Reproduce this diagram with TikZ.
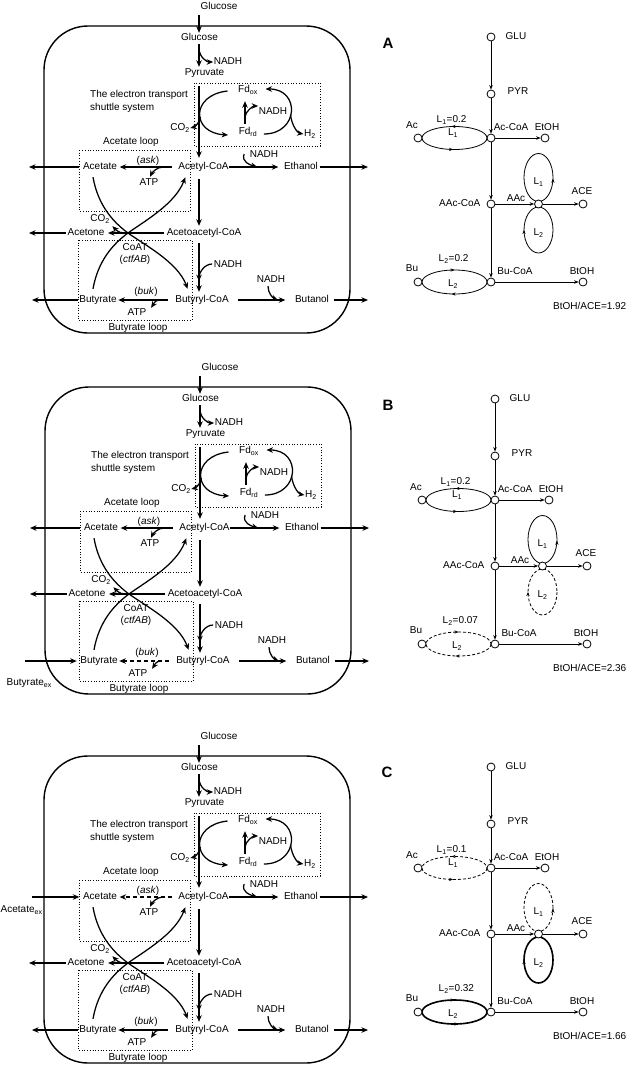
\documentclass[tikz,border=0pt]{standalone}
\usepackage{fontspec}
\setmainfont{Liberation Sans}
\usetikzlibrary{arrows.meta,calc,decorations.markings}

\tikzset{
  lab/.style={inner sep=0.5pt, text height=7pt, text depth=2pt, font=\fontsize{10}{12}\selectfont},
  arr/.style={line width=1.25pt, -{Stealth[length=6.5pt,width=5.5pt]}},
  dbox/.style={dotted, line width=0.7pt},
  cellwall/.style={line width=1.4pt, rounded corners=44pt},
  rarr/.style={line width=0.8pt, -{Stealth[length=4.5pt,width=3.5pt]}},
  rdot/.style={circle, draw, line width=0.8pt, minimum size=8pt, inner sep=0pt, fill=white},
  ell/.style={line width=0.8pt},
  thickell/.style={line width=1.6pt},
  dashell/.style={line width=0.8pt, dash pattern=on 3pt off 2pt},
  dsh/.style={dash pattern=on 4pt off 3pt},
  mkAc/.style={postaction={decorate,decoration={markings,
      mark=at position 0.26 with {\arrowreversed{Stealth[length=4pt,width=3.2pt]}},
      mark=at position 0.73 with {\arrowreversed{Stealth[length=4pt,width=3.2pt]}}}}},
  mkBu/.style={postaction={decorate,decoration={markings,
      mark=at position 0.27 with {\arrow{Stealth[length=4pt,width=3.2pt]}},
      mark=at position 0.75 with {\arrow{Stealth[length=4pt,width=3.2pt]}}}}},
  mkUp/.style={postaction={decorate,decoration={markings,
      mark=at position 0.01 with {\arrowreversed{Stealth[length=4pt,width=3.2pt]}}}}},
  mkDn/.style={postaction={decorate,decoration={markings,
      mark=at position 0.5 with {\arrow{Stealth[length=4pt,width=3.2pt]}}}}},
}

\newcommand\cellpanel[3]{%
 \draw[cellwall] (44,26) rectangle (350,333);
 \draw[dbox] (194,83) rectangle (320,146);
 \draw[dbox] (79,150) rectangle (190,211);
 \draw[dbox] (78,240) rectangle (192,320);
 \node[lab] (#1gout) at (219,7) {Glucose};
 \node[lab] (#1glu) at (199.5,38) {Glucose};
 \node[lab] (#1nadhA) at (228,62) {NADH};
 \node[lab] (#1pyr) at (204.5,73) {Pyruvate};
 \node[lab,anchor=west] (#1etsA) at (89.5,95) {The electron transport};
 \node[lab,anchor=west] (#1etsB) at (89.5,108) {shuttle system};
 \node[lab] (#1fdox) at (248,90) {Fd\textsubscript{ox}};
 \node[lab] (#1fdrd) at (248,132) {Fd\textsubscript{rd}};
 \node[lab] (#1nadhB) at (273,112) {NADH};
 \node[lab] (#1htwo) at (310,134) {H\textsubscript{2}};
 \node[lab] (#1co2a) at (180,128) {CO\textsubscript{2}};
 \node[lab] (#1acloop) at (131,142) {Acetate loop};
 \node[lab] (#1acet) at (100,167) {Acetate};
 \node[lab] (#1ask) at (148,161) {(\textit{ask})};
 \node[lab] (#1atpA) at (149,183) {ATP};
 \node[lab] (#1acoa) at (203.5,167) {Acetyl-CoA};
 \node[lab] (#1nadhC) at (264,155) {NADH};
 \node[lab] (#1eth) at (301,167) {Ethanol};
 \node[lab] (#1aacoa) at (204,233) {Acetoacetyl-CoA};
 \node[lab] (#1acetone) at (86,233) {Acetone};
 \node[lab] (#1co2b) at (100,219) {CO\textsubscript{2}};
 \node[lab] (#1coat) at (135,248) {CoAT};
 \node[lab] (#1ctf) at (135,260) {(\textit{ctfAB})};
 \node[lab] (#1butyr) at (98,300) {Butyrate};
 \node[lab] (#1buk) at (146,292) {(\textit{buk})};
 \node[lab] (#1atpB) at (137,313) {ATP};
 \node[lab] (#1bucoa) at (202,300) {Butyryl-CoA};
 \node[lab] (#1nadhD) at (228,265) {NADH};
 \node[lab] (#1nadhE) at (271,280) {NADH};
 \node[lab] (#1butanol) at (312,300) {Butanol};
 \node[lab] (#1buloop) at (138,328) {Butyrate loop};
 \coordinate (#1X) at (128,233);
 \coordinate (#1oE) at (368,167);
 \coordinate (#1oD) at (368,300);
 \coordinate (#1oB) at (29,233);
 % glucose -> pyruvate
 \draw[arr] ($(#1gout.south)+(-20,3)$) -- ($(#1glu.north)+(-0.5,0)$);
 \draw[arr] ($(#1glu.south)+(-0.5,1)$) -- coordinate[pos=0.2] (#1bA) ($(#1pyr.north)+(-5.5,-1)$);
 \draw[arr] (#1bA) .. controls +(0.5,9) and +(-6,0) .. (#1nadhA.west);
 % pyruvate -> acetyl-CoA
 \draw[arr] ($(#1pyr.south)+(-5.5,8)$) -- ($(#1acoa.north)+(-4.5,-4)$);
 % electron transport shuttle
 \draw[arr] ($(#1fdox.west)+(-10,1)$) .. controls +(-37,4) and +(-37,-2) .. coordinate[pos=0.55] (#1bB) ($(#1fdrd.west)+(-10,3)$);
 \draw[arr] (#1bB) .. controls +(-0.5,6) and +(4,-1) .. (#1co2a.east);
 \draw[arr] ($(#1fdrd.east)+(6,2)$) .. controls +(35,0) and +(35,0) .. coordinate[pos=0.45] (#1bC) ($(#1fdox.east)+(7,-1)$);
 \draw[arr] (#1bC) .. controls +(1,10) and +(-6,-1) .. (#1htwo.west);
 \draw[arr] ($(#1fdrd.north)+(-3,-3)$) -- coordinate[pos=0.3] (#1bD) ($(#1fdox.south)+(-3,6)$);
 \draw[arr] (#1bD) .. controls +(0.5,-6) and +(-5,0) .. ($(#1nadhB.west)+(0,-6)$);
 % acetate branch
 \draw[arr,#2] ($(#1acoa.west)+(-6,0)$) -- coordinate[pos=0.17] (#1bE) ($(#1acet.east)+(2,0)$);
 \draw[arr] (#1bE) .. controls +(-6,0) and +(2,-4) .. ($(#1atpA.north)+(1,-1)$);
 % ethanol
 \draw[arr] (#1acoa.east) -- coordinate[pos=0.57] (#1jA) ($(#1eth.west)+(-5,0)$);
 \draw[arr] ($(#1nadhC.west)+(-5,-1)$) .. controls +(-3,8) and +(-7,-2) .. (#1jA);
 \draw[arr] ($(#1eth.east)+(1,0)$) -- (#1oE);
 % acetoacetyl-CoA
 \draw[arr] ($(#1acoa.south)+(-4.5,7)$) -- ($(#1aacoa.north)+(-5,-2)$);
 \draw[arr] ($(#1aacoa.west)+(-2,0)$) -- coordinate[pos=0.71] (#1bF) ($(#1acetone.east)+(3,0)$);
 \draw[arr] (#1bF) .. controls +(-6,0) and +(3,3) .. ($(#1co2b.south east)+(2,2)$);
 \draw[arr] ($(#1acetone.west)+(-1,0)$) -- (#1oB);
 % CoAT crossing curves
 \draw[arr] ($(#1acet.south)+(-7,5)$) .. controls +(5,28) and +(-15,-11) .. (#1X)
    .. controls +(15,11) and +(-10,-27) .. ($(#1bucoa.north west)+(13,-6)$);
 \draw[arr] ($(#1butyr.north)+(-5,-6)$) .. controls +(5,-28) and +(-15,11) .. (#1X)
    .. controls +(15,-11) and +(-10,27) .. ($(#1acoa.south west)+(7.5,5)$);
 % butyryl-CoA
 \draw[arr] ($(#1aacoa.south)+(-5,5)$) -- coordinate[pos=0.78] (#1jB) ($(#1bucoa.north)+(-3,-3)$);
 \draw[arr] ($(#1nadhD.west)+(-1,-1)$) .. controls +(-8,0) and +(0,-8) .. (#1jB);
 \draw[arr,#3] ($(#1bucoa.west)+(-7,0)$) -- coordinate[pos=0.16] (#1bG) ($(#1butyr.east)+(1,0)$);
 \draw[arr] (#1bG) .. controls +(-5,0) and +(2,-3) .. ($(#1atpB.north east)+(4,0)$);
 \draw[arr] ($(#1bucoa.east)+(9,0)$) -- coordinate[pos=0.84] (#1jC) ($(#1butanol.west)+(-9,0)$);
 \draw[arr] ($(#1nadhE.south)+(-3,1)$) .. controls +(0,7) and +(-5,-2) .. (#1jC);
 \draw[arr] ($(#1butanol.east)+(4,0)$) -- (#1oD);
}

\newcommand\flowpanel[5]{% prefix, L1 value, L2 value, L1 style, L2 style
 \draw[ell,#4,mkAc] (454.5,138) ellipse [x radius=32.5, y radius=11.5];
 \draw[ell,#4,mkUp] (538.5,177.5) ellipse [x radius=14.5, y radius=24];
 \draw[ell,#5,mkDn] (538.5,230) ellipse [x radius=14.5, y radius=23];
 \draw[ell,#5,mkBu] (454.5,282) ellipse [x radius=32.5, y radius=12];
 \node[rdot] (#1glu) at (491,37) {};
 \node[rdot] (#1pyr) at (491,94) {};
 \node[rdot] (#1acoa) at (491,138) {};
 \node[rdot] (#1ac) at (418,138) {};
 \node[rdot] (#1etoh) at (545,138) {};
 \node[rdot] (#1aacoa) at (491,204) {};
 \node[rdot] (#1aac) at (538.5,204) {};
 \node[rdot] (#1ace) at (583,204) {};
 \node[rdot] (#1bucoa) at (491,282) {};
 \node[rdot] (#1bu) at (418,282) {};
 \node[rdot] (#1btoh) at (583,282) {};
 \node[lab,anchor=west] (#1glut) at (505,37) {GLU};
 \node[lab,anchor=west] (#1pyrt) at (507,92) {PYR};
 \node[lab] (#1acoat) at (511,128) {Ac-CoA};
 \node[lab] (#1act) at (412,126) {Ac};
 \node[lab] (#1etoht) at (547,128) {EtOH};
 \node[lab,anchor=east] (#1aacoat) at (481,204) {AAc-CoA};
 \node[lab] (#1aact) at (516,199) {AAc};
 \node[lab] (#1acet) at (582,192) {ACE};
 \node[lab] (#1bucoat) at (515,272) {Bu-CoA};
 \node[lab] (#1but) at (412,269) {Bu};
 \node[lab] (#1btoht) at (582,272) {BtOH};
 \node[lab,anchor=west] (#1lav) at (436,120) {L\textsubscript{1}=#2};
 \node[lab] (#1la) at (453,133) {L\textsubscript{1}};
 \node[lab,anchor=west] (#1lbv) at (438,259) {L\textsubscript{2}=#3};
 \node[lab] (#1lb) at (453,284) {L\textsubscript{2}};
 \node[lab] (#1lau) at (538.5,182) {L\textsubscript{1}};
 \node[lab] (#1lbd) at (538.5,233) {L\textsubscript{2}};
 \draw[rarr] (#1glu) -- (#1pyr);
 \draw[rarr] (#1pyr) -- (#1acoa);
 \draw[rarr] (#1acoa) -- (#1etoh);
 \draw[rarr] (#1acoa) -- (#1aacoa);
 \draw[rarr] (#1aacoa) -- (#1aac);
 \draw[rarr] (#1aac) -- (#1ace);
 \draw[rarr] (#1aacoa) -- (#1bucoa);
 \draw[rarr] (#1bucoa) -- (#1btoh);
}

\begin{document}
\begin{tikzpicture}[x=1pt,y=-1pt]
\useasboundingbox (0,0) rectangle (628,1065);

% ---------- panel A ----------
\begin{scope}
 \cellpanel{A}{solid}{solid}
 \coordinate (AoA) at (29,167);
 \coordinate (AoC) at (32,300);
 \draw[arr] ($(Aacet.west)+(-3,0)$) -- (AoA);
 \draw[arr] ($(Abutyr.west)+(-1,0)$) -- (AoC);
\end{scope}
\begin{scope}
 \flowpanel{RA}{0.2}{0.2}{solid}{solid}
\end{scope}
\node[font=\fontsize{15}{15}\selectfont\bfseries] (letA) at (388,43) {A};
\node[lab,anchor=east] (ratioA) at (627,307) {BtOH/ACE=1.92};

% ---------- panel B ----------
\begin{scope}[shift={(1,361)}]
 \cellpanel{B}{solid}{dsh}
 \coordinate (BoA) at (29,167);
 \coordinate (BiC) at (24,300);
 \node[lab,anchor=west] (Bbutex) at (5,322) {Butyrate\textsubscript{ex}};
 \draw[arr] ($(Bacet.west)+(-3,0)$) -- (BoA);
 \draw[arr] (BiC) -- ($(Bbutyr.west)+(-3,0)$);
\end{scope}
\begin{scope}[shift={(4,362)}]
 \flowpanel{RB}{0.2}{0.07}{solid}{dashell}
\end{scope}
\node[font=\fontsize{15}{15}\selectfont\bfseries] (letB) at (388,405) {B};
\node[lab,anchor=east] (ratioB) at (627,669) {BtOH/ACE=2.36};

% ---------- panel C ----------
\begin{scope}[shift={(0,730)}]
 \cellpanel{C}{dsh}{solid}
 \coordinate (CiA) at (32,167);
 \coordinate (CoC) at (32,300);
 \node[lab,anchor=west] (Cacex) at (0,180) {Acetate\textsubscript{ex}};
 \draw[arr] (CiA) -- ($(Cacet.west)+(-3,0)$);
 \draw[arr] ($(Cbutyr.west)+(-1,0)$) -- (CoC);
\end{scope}
\begin{scope}[shift={(0,730)}]
 \flowpanel{RC}{0.1}{0.32}{dashell}{thickell}
\end{scope}
\node[font=\fontsize{15}{15}\selectfont\bfseries] (letC) at (387,772) {C};
\node[lab,anchor=east] (ratioC) at (627,1037) {BtOH/ACE=1.66};
\end{tikzpicture}
\end{document}
